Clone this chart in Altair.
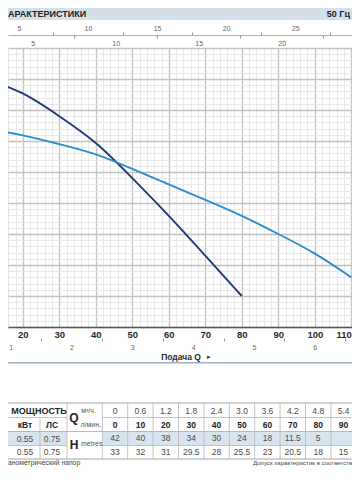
import altair as alt
import pandas as pd

# ---------------- data ----------------
flow_lpm = [0, 10, 20, 30, 40, 50, 60, 70, 80, 90]
flow_m3h = ["0", "0.6", "1.2", "1.8", "2.4", "3.0", "3.6", "4.2", "4.8", "5.4"]
head_a = [42, 40, 38, 34, 30, 24, 18, 11.5, 5]            # first pump row (to 80 l/min)
head_b = [33, 32, 31, 29.5, 28, 25.5, 23, 20.5, 18, 15]    # second pump row
tail_b_lpm = [100, 110]                                    # rest of 2nd curve
tail_b_head = [12, 8]
power_kw = ["0.55", "0.55"]
power_hp = ["0.75", "0.75"]
series_names = ["A", "B"]
series_colors = ["#1f3c78", "#2a8ed0"]

FONT = "Liberation Sans"
NARROW = "'Liberation Sans Narrow', 'Liberation Sans', sans-serif"

# ---------------- geometry ----------------
W, PH = 344, 279
PX = 3.65                       # pixels per l/min
Q0 = 20 - 14.8 / PX
Q1 = Q0 + W / PX
US = 3.785411784
IMP = 4.54609
C0, CW = 107, 25.4              # table value columns: first centre, pitch

curves = pd.DataFrame({
    "q": flow_lpm[:len(head_a)] + flow_lpm + tail_b_lpm,
    "h": head_a + head_b + tail_b_head,
    "s": ["A"] * len(head_a) + ["B"] * (len(flow_lpm) + len(tail_b_lpm)),
})

def fmt(v):
    return "%g" % v

rows = []
for i in range(len(flow_lpm)):
    rows.append({"col": i, "row": 0, "t": flow_m3h[i]})
    rows.append({"col": i, "row": 2, "t": fmt(head_a[i]) if i < len(head_a) else ""})
    rows.append({"col": i, "row": 3, "t": fmt(head_b[i])})
table_reg = pd.DataFrame(rows)
table_bold = pd.DataFrame({"col": list(range(len(flow_lpm))), "row": 1,
                           "t": [str(v) for v in flow_lpm]})

xq = alt.Scale(domain=[Q0, Q1], nice=False, zero=False)
yh = alt.Scale(domain=[0, 45], nice=False, zero=False)
col_scale = alt.Scale(domain=[0, 9], range=[C0, C0 + 9 * CW], nice=False, zero=False)
row_scale = alt.Scale(domain=[0, 3], range=[363, 404], nice=False, zero=False)

major10 = "datum.value % 10 === 0"
major5 = "datum.value % 5 === 0"
isint = "datum.value % 1 === 0"

x_axis = alt.Axis(
    orient="bottom", values=list(range(16, 111, 2)), title=None, grid=True,
    gridColor={"condition": {"test": major10, "value": "#c2c2c2"}, "value": "#e3e3e3"},
    gridWidth={"condition": {"test": major10, "value": 1.3}, "value": 0.8},
    ticks=False, domain=True, domainColor="#5a5a5a", domainWidth=1.6,
    labelExpr=f"{major10} ? format(datum.value, 'd') : ''", labelFont=NARROW, labelFontSize=9.5,
    labelFontWeight="bold", labelColor="#2b2b2b", labelPadding=2,
    labelAlign={"condition": {"test": "datum.value >= 110", "value": "right"}, "value": "center"},
    labelFlush=False, labelOverlap=False)
y_axis = alt.Axis(
    orient="left", values=list(range(0, 46)), title=None, labels=False, ticks=False,
    domain=False, grid=True,
    gridColor={"condition": {"test": major5, "value": "#c2c2c2"}, "value": "#e3e3e3"},
    gridWidth={"condition": {"test": major5, "value": 1.3}, "value": 0.8})

main = alt.Chart(curves).mark_line(interpolate="basis", strokeWidth=1.9, clip=True).encode(
    x=alt.X("q:Q", scale=xq, axis=x_axis),
    y=alt.Y("h:Q", scale=yh, axis=y_axis),
    color=alt.Color("s:N", scale=alt.Scale(domain=series_names, range=series_colors), legend=None),
)

def unit_axis_layer(values, domain, axis):
    return alt.Chart(pd.DataFrame({"v": values})).mark_point(opacity=0).encode(
        x=alt.X("v:Q", scale=alt.Scale(domain=domain, nice=False, zero=False), axis=axis))

us_vals = [5 + 2.5 * k for k in range(10)]
imp_vals = [5 + 2.5 * k for k in range(8)]
m3_vals = [1 + 0.5 * k for k in range(12)]

us_layer = unit_axis_layer(us_vals, [Q0 / US, Q1 / US], alt.Axis(
    orient="top", offset=13, values=us_vals, title=None, grid=False,
    domain=True, domainColor="#b3b3b3", domainWidth=1,
    ticks=True, tickSize=3, tickColor="#9a9a9a",
    tickOpacity={"condition": {"test": major5, "value": 0}, "value": 1},
    labelExpr=f"{major5} ? format(datum.value, 'd') : ''", labelFont=NARROW, labelFontSize=7,
    labelColor="#666666", labelPadding=1, labelFlush=False, labelOverlap=False))
imp_layer = unit_axis_layer(imp_vals, [Q0 / IMP, Q1 / IMP], alt.Axis(
    orient="bottom", offset=-(PH + 13), values=imp_vals, title=None, grid=False,
    domain=False, ticks=True, tickSize=3, tickColor="#9a9a9a",
    tickOpacity={"condition": {"test": major5, "value": 0}, "value": 1},
    labelExpr=f"{major5} ? format(datum.value, 'd') : ''", labelFont=NARROW, labelFontSize=7,
    labelColor="#666666", labelPadding=1, labelFlush=False, labelOverlap=False))
m3_layer = unit_axis_layer(m3_vals, [Q0 * 0.06, Q1 * 0.06], alt.Axis(
    orient="bottom", offset=11, values=m3_vals, title=None, grid=False,
    domain=False, ticks=True, tickSize=3, tickColor="#9a9a9a",
    tickOpacity={"condition": {"test": isint, "value": 0}, "value": 1},
    labelExpr=f"{isint} ? format(datum.value, 'd') : ''", labelFont=NARROW, labelFontSize=7,
    labelColor="#666666", labelPadding=2, labelFlush=False, labelOverlap=False))

one = pd.DataFrame({"k": [0]})

def hrule(x0, x1, y, color="#b5b5b5", w=0.8):
    return alt.Chart(one).mark_rule(color=color, strokeWidth=w).encode(
        x=alt.value(x0), x2=alt.value(x1), y=alt.value(y))

def vrule(x, y0, y1, color="#b5b5b5", w=0.8):
    return alt.Chart(one).mark_rule(color=color, strokeWidth=w).encode(
        x=alt.value(x), y=alt.value(y0), y2=alt.value(y1))

def txt(s, x, y, size, weight="normal", color="#333333", align="center", font=FONT):
    return alt.Chart(one).mark_text(text=s, fontSize=size, fontWeight=weight, color=color,
                                    align=align, baseline="middle", font=font).encode(
        x=alt.value(x), y=alt.value(y))

def box(x0, x1, y0, y1, fill, stroke=None, sw=0):
    kw = dict(fill=fill)
    if stroke:
        kw.update(stroke=stroke, strokeWidth=sw)
    return alt.Chart(one).mark_rect(**kw).encode(
        x=alt.value(x0), x2=alt.value(x1), y=alt.value(y0), y2=alt.value(y1))

HL = "#d8e5ee"
SEP = C0 - CW / 2

hl_cells = alt.Chart(table_reg).transform_filter("datum.row === 2").transform_calculate(
    x0="datum.col - 0.5", x1="datum.col + 0.5").mark_rect(color=HL).encode(
    x=alt.X("x0:Q", scale=col_scale, axis=None), x2="x1:Q",
    y=alt.value(383.5), y2=alt.value(397.5))
col_lines = alt.Chart(table_reg).transform_filter("datum.row === 0").transform_calculate(
    xs="datum.col - 0.5").mark_rule(color="#b5b5b5", strokeWidth=0.8).encode(
    x=alt.X("xs:Q", scale=col_scale, axis=None), y=alt.value(355), y2=alt.value(411))
cell_enc = dict(x=alt.X("col:Q", scale=col_scale, axis=None),
                y=alt.Y("row:Q", scale=row_scale, axis=None), text="t:N")
table_text = alt.Chart(table_reg).mark_text(font=FONT, fontSize=8.5, color="#4a4a4a").encode(**cell_enc)
table_btext = alt.Chart(table_bold).mark_text(font=FONT, fontSize=8.5, fontWeight="bold",
                                               color="#222222").encode(**cell_enc)

layers = [
    box(0, W, -40, -28, "#d4e0e9"),
    txt("АРАКТЕРИСТИКИ", 0, -34, 9, "bold", "#222222", "left"),
    txt("50 Гц", 342, -34, 9, "bold", "#222222", "right"),
    main, us_layer, imp_layer, m3_layer,
    txt("Подача Q", 173, 309, 8.5, "bold", "#2b2b2b"),
    txt("▸", 201, 309, 7, "normal", "#333333"),
    hrule(0, W, 314.7, "#9db1c9", 1.5),
    # table
    box(0, 59, 383.5, 397.5, HL),
    hl_cells,
    hrule(0, W, 355, "#9a9a9a", 0.9),
    hrule(0, 59, 369.5), hrule(SEP, W, 369.5),
    hrule(0, W, 383.5, "#aaaaaa", 0.8),
    hrule(0, 59, 397.5), hrule(SEP, W, 397.5),
    hrule(0, W, 411, "#9a9a9a", 0.9),
    vrule(32, 369.5, 411), vrule(59, 355, 411),
    col_lines,
    txt("МОЩНОСТЬ", 31, 363, 9, "bold", "#222222"),
    txt("кВт", 17, 376.5, 8.5, "bold", "#222222"),
    txt("ЛС", 44, 376.5, 8.5, "bold", "#222222"),
    txt(power_kw[0], 17, 390.5, 8.5, "normal", "#4a4a4a"),
    txt(power_hp[0], 44, 390.5, 8.5, "normal", "#4a4a4a"),
    txt(power_kw[1], 17, 404, 8.5, "normal", "#4a4a4a"),
    txt(power_hp[1], 44, 404, 8.5, "normal", "#4a4a4a"),
    txt("Q", 66, 369.5, 12, "bold", "#222222"),
    txt("м³/ч.", 80.5, 363, 7, "normal", "#555555"),
    txt("л/мин.", 82.7, 376.5, 7, "normal", "#555555"),
    txt("H", 66, 397, 12, "bold", "#222222"),
    txt("metres", 83.7, 396, 7, "normal", "#555555"),
    table_text, table_btext,
    txt("анометрический напор", 0, 415, 6.8, "normal", "#444444", "left"),
    txt("Допуск характеристик в соответств", 245, 415, 6.1, "normal", "#444444", "left"),
]

chart = alt.layer(*layers).resolve_scale(x="independent", y="independent").properties(
    width=W, height=PH,
    padding={"left": 0, "top": 40, "right": 0, "bottom": 141},
    autosize=alt.AutoSizeParams(type="none"),
).configure_view(stroke=None).configure(background="white")

chart.save("out.html", embed_options={"renderer": "svg", "actions": False})
